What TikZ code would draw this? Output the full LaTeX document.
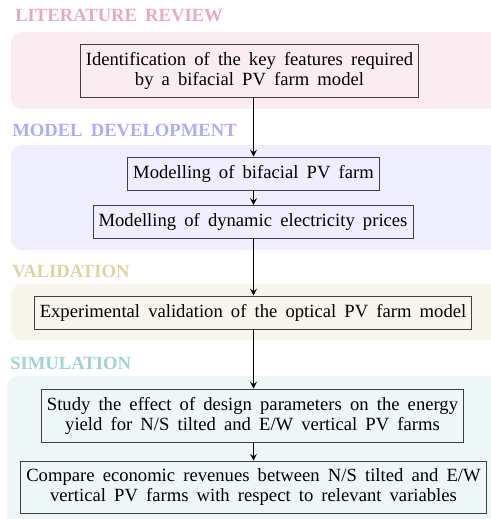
\documentclass[tikz,border=0pt,12pt]{standalone}
\usepackage{fontspec}
\setmainfont[WordSpace=1.75]{Liberation Serif}

\definecolor{litcol}{RGB}{235,168,192}
\definecolor{modcol}{RGB}{172,172,250}
\definecolor{valcol}{RGB}{222,212,162}
\definecolor{simcol}{RGB}{162,210,212}

\tikzset{
    stage/.style={anchor=base west, inner sep=0pt, font=\fontsize{13.6}{14.6}\selectfont\bfseries},
    task/.style={draw=black!75, line width=0.6pt, align=center, inner xsep=4pt, inner ysep=5.8pt,
        font=\fontsize{13.6}{14.6}\selectfont},
    flow/.style={->, >=stealth, line width=1.2pt}
}

\begin{document}
\begin{tikzpicture}[x=0.73pt, y=-0.73pt]
    \useasboundingbox (0,0) rectangle (490,519);
    % phase backgrounds
    \fill [litcol!22, rounded corners=8] (11,32) rectangle (500,109);
    \fill [modcol!20, rounded corners=8] (11,145) rectangle (500,250);
    \fill [valcol!20, rounded corners=8] (11,284) rectangle (500,340);
    \fill [simcol!18, rounded corners=8] (7,376) rectangle (500,530);
    % phase titles
    \node [stage, text=litcol] (litlabel) at (15,22) {LITERATURE REVIEW};
    \node [stage, text=modcol] (modlabel) at (12,137) {MODEL DEVELOPMENT};
    \node [stage, text=valcol] (vallabel) at (12,277) {VALIDATION};
    \node [stage, text=simcol] (simlabel) at (10,369) {SIMULATION};
    % tasks
    \node [task] (features) at (249.5,70.5) {Identification of the key features required\\by a bifacial PV farm model};
    \node [task] (farm) at (253.5,173.5) {Modelling of bifacial PV farm};
    \node [task] (prices) at (253,222) {Modelling of dynamic electricity prices};
    \node [task] (valid) at (253,312.5) {Experimental validation of the optical PV farm model};
    \node [task] (yield) at (252.5,415.5) {Study the effect of design parameters on the energy\\yield for N/S tilted and E/W vertical PV farms};
    \node [task] (revenue) at (253.5,487.5) {Compare economic revenues between N/S tilted and E/W\\vertical PV farms with respect to relevant variables};
    % connections (all on one vertical line)
    \draw [flow] (features.south -| farm) -- (farm);
    \draw [flow] (farm) -- (farm |- prices.north);
    \draw [flow] (prices.south -| farm) -- (farm |- valid.north);
    \draw [flow] (valid.south -| farm) -- (farm |- yield.north);
    \draw [flow] (yield.south -| farm) -- (farm |- revenue.north);
\end{tikzpicture}
\end{document}
